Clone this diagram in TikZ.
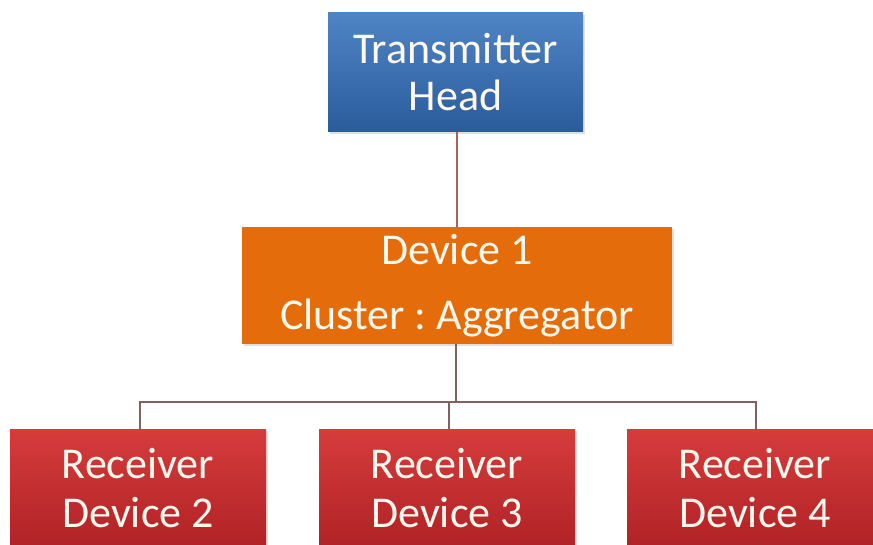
\documentclass[tikz,border=0pt]{standalone}
\usepackage{fontspec}
\setmainfont{Carlito}
\usetikzlibrary{shadows}
\frenchspacing
\definecolor{bluetop}{HTML}{4F84C4}
\definecolor{bluebot}{HTML}{2A5C9C}
\definecolor{orangefill}{HTML}{E46C0A}
\definecolor{redtop}{HTML}{D63C3C}
\definecolor{redbot}{HTML}{B02226}
\definecolor{txtcol}{HTML}{FFF8EE}
\definecolor{linkcol}{HTML}{B0605A}
\definecolor{buscol}{HTML}{806060}
\tikzset{
  boxbase/.style={rectangle, inner sep=0pt, align=center, text=txtcol,
    drop shadow={opacity=0.25, shadow xshift=1.5pt, shadow yshift=-2pt}},
  headbox/.style={boxbase, top color=bluetop, bottom color=bluebot,
    minimum width=255pt, minimum height=119pt, font=\fontsize{44}{47}\selectfont},
  aggbox/.style={boxbase, fill=orangefill,
    minimum width=430pt, minimum height=117pt, font=\fontsize{44}{65}\selectfont},
  recvbox/.style={boxbase, top color=redtop, bottom color=redbot,
    minimum width=256pt, minimum height=118pt, font=\fontsize{44}{49}\selectfont},
  toplink/.style={draw=linkcol, line width=1.1pt},
  buslink/.style={draw=buscol, line width=1.1pt}
}
\begin{document}
\begin{tikzpicture}[x=1pt,y=-1pt]
\useasboundingbox (0,0) rectangle (873,545);
\clip (0,0) rectangle (873,545);
\fill[white] (0,0) rectangle (873,545);
\node[headbox] (head) at (455.5,72.5) {Transmitter\\Head};
\node[aggbox] (agg) at (457,285.5) {Device 1\\Cluster : Aggregator};
\node[recvbox] (r2) at (138,488) {Receiver\\Device 2};
\node[recvbox] (r3) at (447,488) {Receiver\\Device 3};
\node[recvbox] (r4) at (755,488) {Receiver\\Device 4};
\coordinate (bus) at (456,402);
\draw[toplink] (head.south -| 457,0) -- (agg.north -| 457,0);
\draw[buslink] (agg.south -| bus) -- (bus);
\draw[buslink] (r2.north -| 140,0) |- (bus) -| (r4.north -| 756,0);
\draw[buslink] (bus -| 449,0) -- (r3.north -| 449,0);
\end{tikzpicture}
\end{document}
